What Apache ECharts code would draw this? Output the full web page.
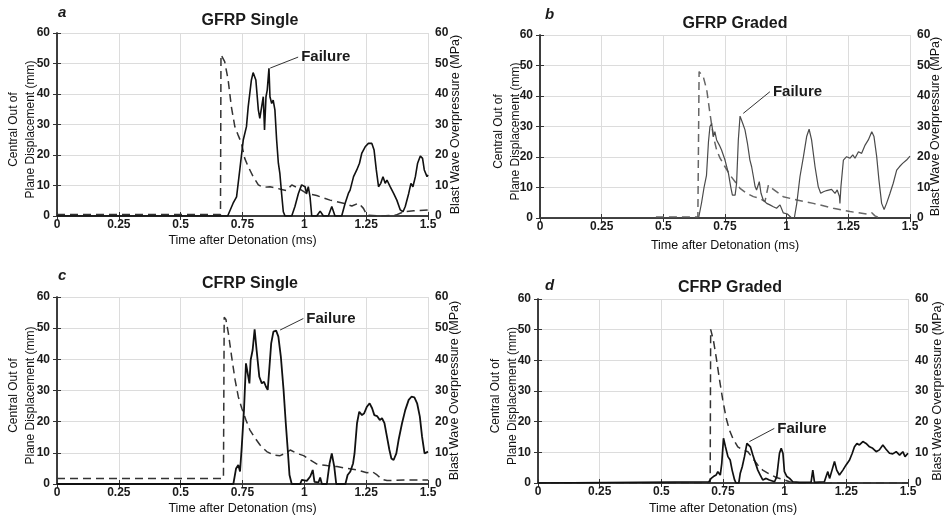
<!DOCTYPE html>
<html>
<head>
<meta charset="utf-8">
<script src="https://cdn.jsdelivr.net/npm/echarts@6/dist/echarts.min.js"></script>
<style>
html,body{margin:0;padding:0;background:#fff;}
#chart{width:945px;height:520px;}
</style>
</head>
<body>
<div id="chart"></div>
<script>
// ---- data (time in ms, value) ----
const panelTitles = ['GFRP Single', 'GFRP Graded', 'CFRP Single', 'CFRP Graded'];
const panelLetters = ['a', 'b', 'c', 'd'];
const xTickLabels = ['0', '0.25', '0.5', '0.75', '1', '1.25', '1.5'];
const yTickLabels = ['0', '10', '20', '30', '40', '50', '60'];

// Central out-of-plane displacement (mm), solid lines
const dispA = [[0,0],[0.69,0],[0.712,4.2],[0.726,6.3],[0.739,15.1],[0.753,24.9],[0.766,29.3],[0.773,35.8],[0.786,44.6],[0.793,47.0],[0.804,44.6],[0.814,34.8],[0.820,32.0],[0.828,32.0],[0.834,39.1],[0.839,28.2],[0.845,39.1],[0.850,41.3],[0.857,48.4],[0.861,39.1],[0.868,36.9],[0.874,38.0],[0.881,34.8],[0.888,24.9],[0.895,17.3],[0.901,14.0],[0.908,7.4],[0.915,1.4],[0.922,0],[0.949,0],[0.962,3.1],[0.976,7.4],[0.989,10.2],[1.003,9.6],[1.009,7.4],[1.016,9.6],[1.023,6.3],[1.030,0],[1.050,0],[1.064,1.6],[1.077,0],[1.097,0],[1.111,3.1],[1.124,0],[1.151,0],[1.165,4.2],[1.178,7.4],[1.185,8.5],[1.199,12.9],[1.212,15.1],[1.223,17.3],[1.232,20.5],[1.246,22.7],[1.259,23.8],[1.273,23.8],[1.282,21.6],[1.291,15.1],[1.300,9.6],[1.309,10.7],[1.318,12.9],[1.327,10.7],[1.334,11.8],[1.347,9.6],[1.361,7.4],[1.374,5.2],[1.388,2.0],[1.399,1.4],[1.408,3.1],[1.422,7.4],[1.431,10.7],[1.439,9.6],[1.449,12.9],[1.458,17.3],[1.469,19.7],[1.478,18.9],[1.485,15.1],[1.496,12.9],[1.5,13.5]];
const dispB = [[0,0],[0.643,0],[0.655,5],[0.665,10],[0.675,14],[0.683,25],[0.689,30],[0.696,31],[0.703,26.7],[0.709,28.3],[0.716,25.6],[0.727,23.9],[0.736,22.3],[0.75,19],[0.764,14.6],[0.773,10.3],[0.78,7.5],[0.791,7.5],[0.797,11.4],[0.804,25.6],[0.811,33.4],[0.822,31],[0.831,28.9],[0.841,24.5],[0.851,19],[0.858,16.8],[0.865,13.6],[0.872,10.3],[0.878,9.2],[0.889,11.9],[0.896,8.1],[0.905,5.9],[0.919,4.8],[0.932,4.3],[0.946,3.7],[0.959,3.2],[0.973,4.3],[0.986,1.7],[1.003,1.3],[1.02,0],[1.031,0],[1.041,4.8],[1.054,13.6],[1.068,20.1],[1.081,26.7],[1.091,29.1],[1.101,25.6],[1.115,16.8],[1.128,10.3],[1.138,8.1],[1.149,8.6],[1.162,9],[1.182,9.4],[1.196,8.1],[1.205,9.2],[1.214,7],[1.216,4.8],[1.22,10.3],[1.23,19],[1.243,20.1],[1.257,19.6],[1.268,20.7],[1.277,19.6],[1.291,21.7],[1.304,21.2],[1.318,23.9],[1.331,25.6],[1.345,28.3],[1.354,26.7],[1.365,20.1],[1.374,12.5],[1.385,4.8],[1.395,2.8],[1.405,4.8],[1.419,8.1],[1.432,11.4],[1.446,15.7],[1.457,16.8],[1.47,17.9],[1.486,19],[1.5,20.3]];
const dispC = [[0,0],[0.713,0],[0.724,5],[0.733,6.1],[0.74,4],[0.747,12],[0.756,23.7],[0.764,38.7],[0.77,39.3],[0.778,32.3],[0.783,39.8],[0.791,43],[0.799,49.6],[0.807,43],[0.818,34.4],[0.828,32.3],[0.837,32.8],[0.845,31.2],[0.852,30.2],[0.859,37.6],[0.866,45.1],[0.875,48.9],[0.886,49.2],[0.895,47.3],[0.905,40.9],[0.916,30.2],[0.925,19.5],[0.933,10.9],[0.94,2.9],[0.949,0],[0.983,0],[0.99,1.3],[1.01,1],[1.024,2.4],[1.034,4.5],[1.041,0.7],[1.057,0.5],[1.064,2.1],[1.071,0],[1.091,0],[1.102,6.6],[1.111,9.8],[1.121,5.6],[1.129,0],[1.166,0],[1.175,2.9],[1.186,4],[1.197,6.6],[1.203,9.8],[1.213,19.5],[1.222,23.2],[1.233,22.1],[1.242,22.7],[1.253,24.8],[1.264,25.9],[1.274,24.3],[1.283,22.1],[1.294,21.8],[1.305,20.5],[1.314,21.1],[1.324,19.5],[1.334,15.2],[1.344,10.9],[1.352,8.2],[1.361,7.7],[1.372,9.8],[1.381,14.1],[1.395,19.5],[1.408,23.7],[1.422,27],[1.433,28],[1.445,27.8],[1.456,25.9],[1.467,21.6],[1.476,15.2],[1.486,9.8],[1.494,9.3],[1.5,10.4]];
const dispD = [[0,0],[0.693,0.4],[0.702,1.5],[0.711,2.1],[0.722,2.6],[0.729,3.7],[0.739,2.6],[0.745,6.4],[0.752,14.6],[0.76,11.8],[0.77,8.6],[0.779,7.5],[0.787,4.2],[0.797,1],[0.803,0],[0.814,0],[0.82,3.2],[0.828,5.3],[0.837,8.6],[0.847,12.9],[0.855,13.5],[0.861,11.8],[0.871,9.1],[0.882,6.4],[0.891,4.2],[0.901,2.6],[0.911,1],[0.925,1.5],[0.938,1],[0.959,0.4],[0.968,2.1],[0.979,9.7],[0.986,11.3],[0.993,9.7],[0.999,3.7],[1.009,2.1],[1.02,1.5],[1.033,0.4],[1.06,0.2],[1.107,0.2],[1.114,4.2],[1.121,0.2],[1.161,0.4],[1.168,2.1],[1.175,3.7],[1.182,1.5],[1.192,4.2],[1.202,7],[1.211,4.2],[1.222,2.6],[1.236,4.2],[1.249,5.9],[1.263,7.5],[1.274,9.7],[1.283,11.8],[1.293,12.9],[1.303,12.4],[1.317,13.5],[1.33,12.9],[1.344,11.8],[1.357,11.3],[1.371,10.2],[1.384,10.8],[1.398,12.4],[1.411,11],[1.425,9.7],[1.438,9.5],[1.452,10.2],[1.466,9.1],[1.479,10.2],[1.488,8.6],[1.5,9.7]];

// Blast wave overpressure (MPa), dashed lines
const presA = [[0,0.5],[0.661,0.5],[0.663,52.9],[0.669,52.8],[0.678,50.6],[0.692,44.6],[0.705,35.8],[0.719,29.3],[0.732,26.6],[0.746,23.8],[0.759,18.9],[0.773,16.2],[0.793,12.9],[0.814,10.2],[0.834,9.4],[0.861,9.6],[0.888,9.1],[0.908,8.7],[0.928,8.3],[0.949,10.2],[0.976,9.1],[1.009,7.4],[1.05,6.7],[1.104,5.2],[1.158,4.2],[1.192,3.3],[1.219,4.2],[1.239,2.5],[1.253,0.3],[1.307,0],[1.37,0.3],[1.401,1.4],[1.442,1.7],[1.5,2.0]];
const presB = [[0.47,0.3],[0.64,0.3],[0.645,48],[0.652,48.2],[0.662,46.3],[0.669,45.8],[0.676,42],[0.689,34.3],[0.703,26.7],[0.716,22.3],[0.73,19.6],[0.75,16.8],[0.77,14.1],[0.791,11.9],[0.811,9.7],[0.838,8.1],[0.865,7],[0.892,6.4],[0.912,5.4],[0.926,10.8],[0.946,9.4],[0.986,7],[1.041,5.9],[1.108,4.8],[1.189,3.2],[1.257,2.1],[1.324,1.3],[1.345,1.7],[1.358,0.7],[1.378,0]];
const presC = [[0,1.8],[0.673,1.8],[0.676,53.5],[0.683,52.8],[0.693,48.3],[0.706,40.9],[0.72,33.4],[0.733,28],[0.747,24.3],[0.764,20.5],[0.78,17.3],[0.801,14.7],[0.821,12.5],[0.848,10.4],[0.875,9.3],[0.902,9.1],[0.922,9.8],[0.943,10.9],[0.97,9.8],[0.997,9.1],[1.024,7.7],[1.051,6.4],[1.091,5.9],[1.132,5.6],[1.172,5],[1.213,4.5],[1.253,3.6],[1.274,4],[1.294,2.9],[1.314,1.5],[1.334,1.1],[1.402,1.3],[1.5,1.3]];
const presD = [[0,0],[0.698,0],[0.7,50.1],[0.702,50.1],[0.711,46.6],[0.722,41.2],[0.736,33.6],[0.749,27.1],[0.763,21.1],[0.776,17.3],[0.79,14.5],[0.81,11.8],[0.83,10.8],[0.851,10.2],[0.871,8],[0.891,5.9],[0.911,4.2],[0.938,2.9],[0.966,1.8],[0.993,1.2],[1.02,0.4],[1.047,0],[1.5,0]];

// "Failure" annotation: [from point on curve, label anchor]
const failA = [[0.862, 48.5], [0.975, 52.1]];
const failB = [[0.824, 34.3], [0.932, 41.4]];
const failC = [[0.902, 49.4], [0.996, 53.1]];
const failD = [[0.857, 13.5], [0.958, 17.8]];

// ---- layout ----
const disps = [dispA, dispB, dispC, dispD];
const press = [presA, presB, presC, presD];
const fails = [failA, failB, failC, failD];
const grids = [
  {left: 57, top: 33, width: 371, height: 183},
  {left: 540, top: 35, width: 370, height: 183},
  {left: 57, top: 297, width: 371, height: 187},
  {left: 538, top: 299, width: 371, height: 184}
];
const leftGap = [17.5, 15.5, 17.5, 17];
const rightGap = [21, 19, 20, 23];
const bottomGap = [18, 21, 18, 19];
const titlePos = [[245, 8], [730, 11], [245, 271], [725, 275]];
const letterPos = [[58, 13], [545, 15], [58, 276], [545, 286]];
const solidColor = ['#111', '#4a4a4a', '#111', '#111'];
const solidWidth = [1.6, 1.2, 1.8, 1.7];
const dashColor = ['#333', '#666', '#333', '#333'];

const FONT = 'Liberation Sans';
const axisColor = '#333';
const labelStyle = {color: '#1a1a1a', fontFamily: FONT, fontWeight: 'bold', fontSize: 12};

const xAxes = [], yAxes = [], series = [], titles = [], graphics = [];
grids.forEach((g, i) => {
  xAxes.push({
    gridIndex: i, type: 'value', min: 0, max: 1.5, interval: 0.25, position: 'bottom',
    name: 'Time after Detonation (ms)', nameLocation: 'middle', nameGap: bottomGap[i], nameMoveOverlap: false,
    nameTextStyle: {color: '#111', fontFamily: FONT, fontSize: 12.5},
    axisLine: {show: true, lineStyle: {color: axisColor, width: 1.5}},
    axisTick: {show: true, inside: true, length: 4, lineStyle: {color: axisColor}},
    axisLabel: Object.assign({margin: 3, formatter: v => xTickLabels[Math.round(v / 0.25)]}, labelStyle),
    splitLine: {show: true, lineStyle: {color: '#dcdcdc', width: 1}}
  });
});
grids.forEach((g, i) => {
  xAxes.push({
    gridIndex: i, type: 'value', min: 0, max: 1.5, interval: 0.25, position: 'top',
    axisLine: {show: true, lineStyle: {color: axisColor, width: 1.5}},
    axisTick: {show: true, inside: true, length: 4, lineStyle: {color: axisColor}},
    axisLabel: {show: false}, splitLine: {show: false}
  });
});
grids.forEach((g, i) => {
  yAxes.push({
    gridIndex: i, type: 'value', min: 0, max: 60, interval: 10, position: 'left',
    name: 'Central Out of\nPlane Displacement (mm)', nameLocation: 'middle', nameRotate: 90,
    nameGap: leftGap[i], nameMoveOverlap: false,
    nameTextStyle: {color: '#111', fontFamily: FONT, fontSize: 12, lineHeight: 17, padding: [0, 10, 0, 0]},
    axisLine: {show: true, lineStyle: {color: axisColor, width: 1.5}},
    axisTick: {show: true, inside: true, length: 4, lineStyle: {color: axisColor}},
    axisLabel: Object.assign({margin: 7, formatter: v => yTickLabels[Math.round(v / 10)]}, labelStyle),
    splitLine: {show: true, lineStyle: {color: '#dcdcdc', width: 1}}
  });
  yAxes.push({
    gridIndex: i, type: 'value', min: 0, max: 60, interval: 10, position: 'right',
    name: 'Blast Wave Overpressure (MPa)', nameLocation: 'middle', nameRotate: 90,
    nameGap: rightGap[i], nameMoveOverlap: false,
    nameTextStyle: {color: '#111', fontFamily: FONT, fontSize: 12.5},
    axisLine: {show: true, lineStyle: {color: axisColor, width: 1.5}},
    axisTick: {show: true, inside: true, length: 4, lineStyle: {color: axisColor}},
    axisLabel: Object.assign({margin: 7, formatter: v => yTickLabels[Math.round(v / 10)]}, labelStyle),
    splitLine: {show: false}
  });
  series.push({
    type: 'line', xAxisIndex: i, yAxisIndex: 2 * i + 1, data: press[i],
    showSymbol: false, symbol: 'none', silent: true, z: 3,
    lineStyle: {color: dashColor[i], width: 1.5, type: [8, 5]}
  });
  series.push({
    type: 'line', xAxisIndex: i, yAxisIndex: 2 * i, data: disps[i],
    showSymbol: false, symbol: 'none', silent: true, z: 4,
    lineStyle: {color: solidColor[i], width: solidWidth[i]},
    markLine: {
      silent: true, symbol: 'none', animation: false,
      lineStyle: {color: '#333', width: 1, type: 'solid'},
      label: {show: false},
      data: [[{coord: fails[i][0]}, {coord: fails[i][1]}]]
    },
    markPoint: {
      silent: true, animation: false, symbol: 'circle', symbolSize: 0,
      label: {show: true, position: 'right', distance: 3, formatter: 'Failure',
        color: '#1a1a1a', fontFamily: FONT, fontWeight: 'bold', fontSize: 15},
      data: [{coord: fails[i][1]}]
    }
  });
  titles.push({
    text: panelTitles[i], left: titlePos[i][0], top: titlePos[i][1], textAlign: 'center',
    textStyle: {color: '#1a1a1a', fontFamily: FONT, fontWeight: 'bold', fontSize: 16}
  });
  graphics.push({
    type: 'text', left: letterPos[i][0], top: letterPos[i][1] - 8,
    style: {text: panelLetters[i], fill: '#1a1a1a', font: 'italic bold 15px "Liberation Sans"'}
  });
});

const chart = echarts.init(document.getElementById('chart'), null, {renderer: 'canvas'});
chart.setOption({
  animation: false,
  backgroundColor: '#fff',
  title: titles,
  grid: grids,
  xAxis: xAxes,
  yAxis: yAxes,
  series: series,
  graphic: graphics
});
</script>
</body>
</html>
